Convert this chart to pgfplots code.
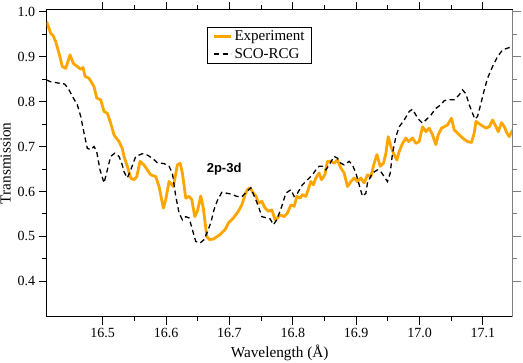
\documentclass[border=0pt]{standalone}
\usepackage{fontspec}
\setmainfont{Liberation Serif}
\setsansfont{Liberation Sans}
\usepackage{pgfplots}
\pgfplotsset{compat=1.18}
\definecolor{exporange}{RGB}{255,165,0}

\pgfplotstableread{
x y
16.4116 0.978
16.4179 0.952
16.4220 0.946
16.4258 0.933
16.4310 0.908
16.4362 0.878
16.4416 0.874
16.4484 0.904
16.4536 0.885
16.4599 0.878
16.4653 0.872
16.4689 0.876
16.4721 0.856
16.4784 0.852
16.4863 0.833
16.4905 0.808
16.4968 0.804
16.5021 0.778
16.5073 0.774
16.5126 0.752
16.5178 0.726
16.5257 0.711
16.5309 0.696
16.5336 0.678
16.5388 0.656
16.5442 0.630
16.5494 0.626
16.5537 0.633
16.5589 0.667
16.5652 0.659
16.5704 0.648
16.5758 0.637
16.5837 0.633
16.5889 0.611
16.5957 0.563
16.5995 0.582
16.6047 0.622
16.6115 0.611
16.6178 0.659
16.6221 0.663
16.6257 0.641
16.6311 0.585
16.6363 0.589
16.6405 0.582
16.6453 0.544
16.6494 0.556
16.6547 0.590
16.6588 0.563
16.6642 0.500
16.6683 0.493
16.6746 0.494
16.6852 0.504
16.6931 0.515
16.6983 0.530
16.7062 0.541
16.7141 0.556
16.7195 0.570
16.7247 0.593
16.7283 0.604
16.7326 0.608
16.7378 0.596
16.7421 0.589
16.7457 0.574
16.7511 0.578
16.7563 0.563
16.7615 0.556
16.7669 0.559
16.7721 0.537
16.7757 0.541
16.7800 0.548
16.7863 0.544
16.7915 0.552
16.7969 0.570
16.8021 0.567
16.8063 0.589
16.8115 0.585
16.8152 0.593
16.8205 0.589
16.8242 0.604
16.8284 0.622
16.8325 0.615
16.8363 0.630
16.8415 0.641
16.8452 0.626
16.8505 0.637
16.8547 0.667
16.8600 0.667
16.8652 0.663
16.8704 0.670
16.8758 0.652
16.8810 0.641
16.8862 0.611
16.8916 0.622
16.8968 0.630
16.9020 0.622
16.9074 0.630
16.9126 0.619
16.9178 0.637
16.9232 0.633
16.9284 0.663
16.9327 0.682
16.9379 0.656
16.9431 0.663
16.9469 0.685
16.9505 0.722
16.9548 0.700
16.9589 0.685
16.9642 0.670
16.9679 0.689
16.9731 0.707
16.9784 0.719
16.9826 0.711
16.9889 0.719
16.9942 0.707
16.9994 0.711
17.0047 0.744
17.0100 0.733
17.0152 0.741
17.0204 0.726
17.0258 0.704
17.0294 0.726
17.0347 0.741
17.0389 0.744
17.0441 0.748
17.0504 0.763
17.0547 0.737
17.0626 0.726
17.0705 0.716
17.0757 0.711
17.0820 0.709
17.0863 0.730
17.0890 0.756
17.0969 0.748
17.1048 0.741
17.1100 0.744
17.1152 0.759
17.1206 0.744
17.1242 0.733
17.1294 0.753
17.1337 0.744
17.1379 0.730
17.1415 0.722
17.1467 0.737
}\experiment

\pgfplotstableread{
x y
16.4116 0.848
16.4179 0.844
16.4310 0.841
16.4400 0.839
16.4468 0.826
16.4536 0.808
16.4599 0.793
16.4653 0.767
16.4705 0.730
16.4757 0.696
16.4811 0.693
16.4863 0.700
16.4905 0.689
16.4957 0.648
16.5021 0.619
16.5073 0.648
16.5126 0.678
16.5189 0.685
16.5257 0.678
16.5309 0.659
16.5336 0.644
16.5388 0.630
16.5442 0.648
16.5521 0.678
16.5625 0.684
16.5704 0.681
16.5783 0.674
16.5862 0.664
16.5968 0.662
16.6047 0.656
16.6099 0.641
16.6153 0.589
16.6205 0.552
16.6257 0.537
16.6311 0.544
16.6363 0.541
16.6415 0.515
16.6468 0.489
16.6536 0.485
16.6600 0.493
16.6642 0.507
16.6705 0.530
16.6758 0.560
16.6810 0.580
16.6879 0.598
16.6958 0.596
16.7037 0.594
16.7116 0.589
16.7195 0.588
16.7274 0.600
16.7337 0.608
16.7405 0.585
16.7457 0.567
16.7511 0.544
16.7590 0.541
16.7642 0.539
16.7694 0.526
16.7747 0.537
16.7826 0.567
16.7890 0.596
16.7969 0.604
16.8021 0.589
16.8073 0.596
16.8152 0.615
16.8231 0.626
16.8310 0.637
16.8363 0.648
16.8415 0.656
16.8468 0.656
16.8521 0.648
16.8573 0.659
16.8652 0.678
16.8704 0.674
16.8758 0.663
16.8810 0.659
16.8889 0.667
16.8941 0.659
16.8995 0.641
16.9047 0.615
16.9099 0.589
16.9153 0.596
16.9178 0.619
16.9257 0.641
16.9336 0.648
16.9390 0.644
16.9442 0.633
16.9494 0.622
16.9537 0.641
16.9573 0.685
16.9627 0.722
16.9679 0.744
16.9758 0.759
16.9837 0.778
16.9889 0.783
16.9942 0.770
16.9994 0.759
17.0047 0.752
17.0100 0.759
17.0179 0.770
17.0258 0.785
17.0337 0.793
17.0389 0.802
17.0468 0.804
17.0547 0.804
17.0626 0.815
17.0678 0.826
17.0732 0.817
17.0784 0.793
17.0836 0.774
17.0874 0.761
17.0915 0.767
17.0969 0.796
17.1021 0.826
17.1073 0.852
17.1152 0.878
17.1231 0.900
17.1310 0.915
17.1389 0.919
17.1467 0.922
}\scorcg

\pgfplotsset{
  common/.style={
    scale only axis,
    width=466bp, height=306.7bp,
    xmin=16.4116, xmax=17.147,
    ymin=0.3213, ymax=1.0038,
    xtick={16.5,16.6,16.7,16.8,16.9,17.0,17.1},
    ytick={0.4,0.5,0.6,0.7,0.8,0.9,1.0},
    minor tick num=1,
    major tick length=8bp,
    minor tick length=4.5bp,
    axis line style={line width=1bp},
    every tick/.style={line width=0.9bp},
  }
}

\begin{document}
\begin{tikzpicture}
\begin{axis}[
  common,
  name=ax,
  xtick pos=both,
  ytick pos=left,
  tick align=outside,
  /pgf/number format/assume math mode=true,
  xticklabel style={/pgf/number format/.cd, fixed, fixed zerofill, precision=1},
  yticklabel style={/pgf/number format/.cd, fixed, fixed zerofill, precision=1},
  tick label style={font=\fontsize{14bp}{16bp}\selectfont},
  label style={font=\fontsize{15.3bp}{17bp}\selectfont},
  xlabel={Wavelength (Å)},
  ylabel={Transmission},
  legend style={at={(0.345,0.946)}, anchor=north west, draw=black,
    line width=0.6bp, font=\fontsize{15bp}{16bp}\selectfont,
    inner xsep=5bp, inner ysep=2bp, row sep=2bp},
  legend cell align=left,
  legend image code/.code={\draw[#1] (0bp,0bp) -- (17bp,0bp);},
]
\addplot[exporange, line width=2.8bp, line join=round] table[x=x,y=y] {\experiment};
\addlegendentry{Experiment}
\addplot[black, line width=1.3bp, dash pattern=on 5bp off 3.5bp] table[x=x,y=y] {\scorcg};
\addlegendentry{SCO-RCG}
\node[font=\sffamily\bfseries\fontsize{13bp}{15bp}\selectfont] at (axis cs:16.6916,0.650) {2p-3d};
\end{axis}
\begin{axis}[
  common,
  axis x line=none,
  axis y line*=right,
  ytick pos=right,
  ytick align=outside,
  y axis line style={gray, line width=1bp},
  every tick/.style={gray, line width=0.9bp},
  yticklabels={},
]
\end{axis}
\pgfresetboundingbox
\path[use as bounding box] ([shift={(-46.7bp,-46.3bp)}]ax.south west) rectangle ([shift={(10.3bp,10bp)}]ax.north east);
\end{tikzpicture}
\end{document}
